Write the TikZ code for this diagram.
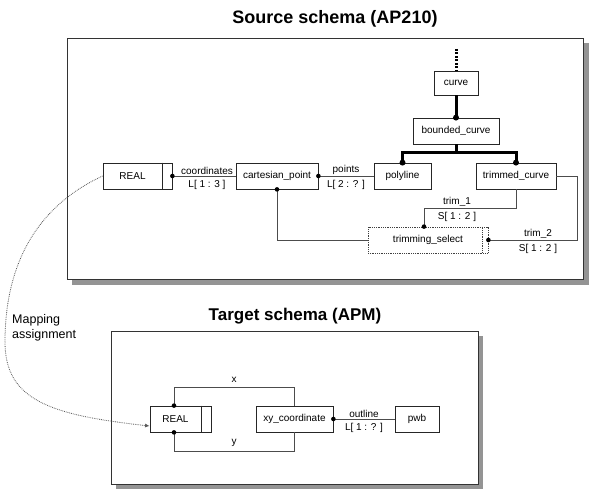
\documentclass[tikz,border=0pt]{standalone}
\usepackage{fontspec}
\setmainfont{Liberation Sans}
\usetikzlibrary{arrows.meta,calc}
\begin{document}
\begin{tikzpicture}[x=1pt,y=-1pt,
  ent/.style={draw=black!85, line width=0.8pt, fill=white, inner sep=0pt,
    minimum height=26pt, font=\fontsize{10}{12}\selectfont},
  sel/.style={ent, draw=black!75, densely dotted},
  rel/.style={draw=black!70, line width=0.8pt},
  sub/.style={draw=black, line width=3pt},
  lbl/.style={font=\fontsize{10}{12}\selectfont, inner sep=1.5pt},
  above lbl/.style={lbl, anchor=south},
  below lbl/.style={lbl, anchor=north, yshift=-2.5pt},
  frame/.style={draw=black!80, line width=0.9pt, fill=white},
  shade/.style={fill=black!42},
  map/.style={draw=black!65, densely dotted, line width=0.8pt,
    -{Latex[length=4.5pt,width=4pt]}}
]
\useasboundingbox (0,0) rectangle (613,489);

% ---------- frames with drop shadows ----------
\fill[shade] (72,43) rectangle (589,285);
\draw[frame] (67,38) rectangle (583,279);
\fill[shade] (116,336) rectangle (483,489);
\draw[frame] (111,331) rectangle (478,484);

\node[font=\fontsize{18}{21}\selectfont\bfseries] (srctitle) at (335,19) {Source schema (AP210)};
\node[font=\fontsize{17}{20}\selectfont\bfseries] (tgttitle) at (295,316) {Target schema (APM)};

% ---------- source schema entities ----------
\node[ent, minimum width=44pt, minimum height=24pt] (curve) at (456,83) {curve};
\node[ent, minimum width=86pt] (bcurve) at (456,131) {bounded\_curve};
\node[ent, minimum width=57pt] (polyline) at (402.5,176) {polyline};
\node[ent, minimum width=80pt] (tcurve) at (516,176) {trimmed\_curve};
\node[ent, minimum width=69pt] (realS) at (137.5,176) {\hspace*{-10pt}REAL};
\node[ent, minimum width=82pt] (cart) at (277,176) {cartesian\_point};
\node[sel, minimum width=120pt] (tsel) at (428,240) {trimming\_select};

\draw[black!85, line width=0.8pt] ([xshift=-10pt]realS.north east) -- ([xshift=-10pt]realS.south east);
\draw[black!75, line width=0.8pt, densely dotted] ([xshift=-6pt]tsel.north east) -- ([xshift=-6pt]tsel.south east);

% supertype above curve
\coordinate (up) at (456,49);
\draw[black, line width=3pt, dash pattern=on 2pt off 1.5pt] (up) -- (curve.north);

% subtype tree
\coordinate (lvl) at (0,153);
\draw[sub] (curve.south) -- (bcurve.north);
\fill (bcurve.north) circle (3);
\draw[sub] (bcurve.south) -- (bcurve.south |- lvl);
\draw[sub, line join=miter] (polyline.north) -- (polyline.north |- lvl) -- (tcurve.north |- lvl) -- (tcurve.north);
\fill (polyline.north) circle (3);
\fill (tcurve.north) circle (3);

% coordinates
\draw[rel] (realS.east) -- (cart.west);
\fill (realS.east) circle (2.3);
\coordinate (mcoord) at ($(realS.east)!0.5!(cart.west)+(3,0)$);
\node[above lbl] (lcoord) at (mcoord) {coordinates};
\node[below lbl] (lcoordm) at (mcoord) {L[ 1 : 3 ]};

% points
\draw[rel] (cart.east) -- (polyline.west);
\fill (cart.east) circle (2.3);
\coordinate (mpts) at ($(cart.east)!0.5!(polyline.west)$);
\node[above lbl] (lpts) at (mpts) {points};
\node[below lbl] (lptsm) at (mpts) {L[ 2 : ? ]};

% select to cartesian_point
\draw[rel] (cart.south) |- (tsel.west);
\fill (cart.south) circle (2.3);

% trim_1
\coordinate (t1) at (0,208);
\draw[rel] (tcurve.south) -- (tcurve.south |- t1) -| ([xshift=-4pt]tsel.north);
\fill ([xshift=-4pt]tsel.north) circle (2.3);
\coordinate (mt1) at (457,208);
\node[above lbl] (ltrim1) at (mt1) {trim\_1};
\node[below lbl] (ltrim1m) at (mt1) {S[ 1 : 2 ]};

% trim_2
\coordinate (t2) at (577,0);
\draw[rel] (tcurve.east) -- (tcurve.east -| t2) |- (tsel.east);
\fill (tsel.east) circle (2.3);
\coordinate (mt2) at (538,240);
\node[above lbl] (ltrim2) at (mt2) {trim\_2};
\node[below lbl] (ltrim2m) at (mt2) {S[ 1 : 2 ]};

% ---------- target schema entities ----------
\node[ent, minimum width=61pt] (realT) at (180.5,419) {\hspace*{-10pt}REAL};
\node[ent, minimum width=77pt] (xy) at (294.5,419) {xy\_coordinate};
\node[ent, minimum width=44pt] (pwb) at (417,419) {pwb};
\draw[black!85, line width=0.8pt] ([xshift=-10pt]realT.north east) -- ([xshift=-10pt]realT.south east);

% x and y
\coordinate (xl) at (0,387);
\coordinate (yl) at (0,451);
\draw[rel] ([xshift=-6.5pt]realT.north) -- ([xshift=-6.5pt]realT.north |- xl) -| (xy.north);
\fill ([xshift=-6.5pt]realT.north) circle (2.3);
\draw[rel] ([xshift=-6.5pt]realT.south) -- ([xshift=-6.5pt]realT.south |- yl) -| (xy.south);
\fill ([xshift=-6.5pt]realT.south) circle (2.3);
\node[above lbl] (lx) at (234,384) {x};
\node[above lbl] (ly) at (234,448) {y};

% outline
\draw[rel] (xy.east) -- (pwb.west);
\fill (xy.east) circle (2.3);
\coordinate (mout) at ($(xy.east)!0.5!(pwb.west)$);
\node[above lbl] (lout) at (mout) {outline};
\node[below lbl] (loutm) at (mout) {L[ 1 : ? ]};

% ---------- mapping between the two schemas ----------
\coordinate (bend) at (5,342);
\draw[map] (realS.west) .. controls (40,205) and (5,260) .. (bend)
  .. controls (5,400) and (50,415) .. ([yshift=-7pt]realT.west);
\node[anchor=north west, align=left, inner sep=0pt,
  font=\fontsize{12.5}{15}\selectfont] (maplbl) at (12,314) {Mapping\\assignment};

\end{tikzpicture}
\end{document}
